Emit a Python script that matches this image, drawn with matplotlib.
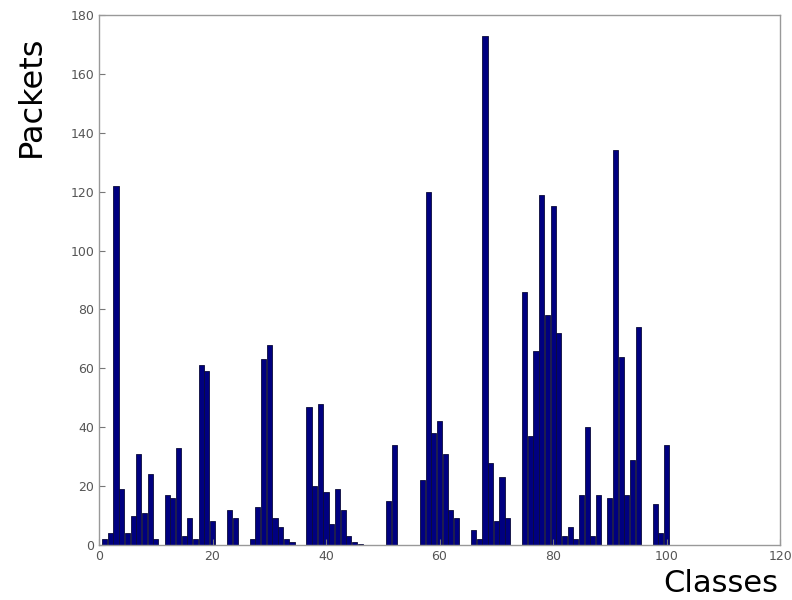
import matplotlib
matplotlib.use("Agg")
import matplotlib.pyplot as plt
import numpy as np

# packets per class (classes 1..100)
classes = np.arange(1, 101)
packets = [
    2, 4, 122, 19, 4, 10, 31, 11, 24, 2,          # 1-10
    0, 17, 16, 33, 3, 9, 2, 61, 59, 8,            # 11-20
    0, 0, 12, 9, 0, 0, 2, 13, 63, 68,             # 21-30
    9, 6, 2, 1, 0, 0, 47, 20, 48, 18,             # 31-40
    7, 19, 12, 3, 1, 0.5, 0, 0, 0, 0,             # 41-50
    15, 34, 0, 0, 0, 0, 22, 120, 38, 42,          # 51-60
    31, 12, 9, 0, 0, 5, 2, 173, 28, 8,            # 61-70
    23, 9, 0, 0, 86, 37, 66, 119, 78, 115,        # 71-80
    72, 3, 6, 2, 17, 40, 3, 17, 0, 16,            # 81-90
    134, 64, 17, 29, 74, 0, 0, 14, 4, 34,         # 91-100
]
xticks = [0, 20, 40, 60, 80, 100, 120]
yticks = [0, 20, 40, 60, 80, 100, 120, 140, 160, 180]

fig = plt.figure(figsize=(7.92, 6.0), dpi=100)
ax = fig.add_axes([0.125, 0.0917, 0.86, 0.8833])

ax.bar(classes, packets, width=0.9, color="#000080", edgecolor="#0b0b3a", linewidth=0.6)

ax.set_xlim(0, 120)
ax.set_ylim(0, 180)
ax.set_xticks(xticks)
ax.set_yticks(yticks)
ax.tick_params(direction="in", length=4, colors="#777777", labelcolor="#555555", labelsize=9)
for s in ax.spines.values():
    s.set_color("#999999")
    s.set_linewidth(1.0)

fig.text(0.039, 0.84, "Packets", rotation=90, ha="center", va="center", fontsize=23)
fig.text(0.91, 0.028, "Classes", ha="center", va="center", fontsize=22)

plt.savefig("out.png", dpi=100)
